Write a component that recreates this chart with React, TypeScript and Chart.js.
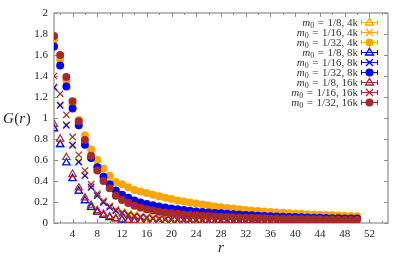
import React, { useEffect, useRef } from "react";
import { Chart, registerables } from "chart.js";

Chart.register(...registerables);

const rValues = [
  1, 2, 3, 4, 5, 6, 7, 8, 9, 10, 11, 12, 13, 14, 15, 16, 17, 18, 19, 20, 21, 22, 23, 24, 25,
  26, 27, 28, 29, 30, 31, 32, 33, 34, 35, 36, 37, 38, 39, 40, 41, 42, 43, 44, 45, 46, 47, 48, 49, 50,
];

const xTickValues = [4, 8, 12, 16, 20, 24, 28, 32, 36, 40, 44, 48, 52];
const xMinorTickValues = [2, 6, 10, 14, 18, 22, 26, 30, 34, 38, 42, 46, 50, 54];
const yTickValues = [0, 0.2, 0.4, 0.6, 0.8, 1, 1.2, 1.4, 1.6, 1.8, 2];

// m0 = 1/8
const g8_4k = [
  0.89, 0.74, 0.57, 0.42, 0.30, 0.21, 0.148, 0.103, 0.074, 0.055,
  0.042, 0.034, 0.028, 0.024, 0.021, 0.018, 0.016, 0.015, 0.014, 0.013,
  0.012, 0.011, 0.01, 0.01, 0.009, 0.009, 0.008, 0.008, 0.008, 0.007,
  0.007, 0.007, 0.006, 0.006, 0.006, 0.006, 0.005, 0.005, 0.005, 0.005,
  0.005, 0.005, 0.004, 0.004, 0.004, 0.004, 0.004, 0.004, 0.004, 0.004,
];
const g8_8k = [
  0.90, 0.75, 0.575, 0.425, 0.305, 0.215, 0.15, 0.105, 0.074, 0.053,
  0.039, 0.029, 0.022, 0.017, 0.014, 0.012, 0.01, 0.009, 0.008, 0.007,
  0.006, 0.006, 0.005, 0.005, 0.004, 0.004, 0.004, 0.003, 0.003, 0.003,
  0.003, 0.003, 0.002, 0.002, 0.002, 0.002, 0.002, 0.002, 0.002, 0.002,
  0.002, 0.002, 0.001, 0.001, 0.001, 0.001, 0.001, 0.001, 0.001, 0.001,
];
const g8_16k = [
  0.94, 0.80, 0.625, 0.465, 0.335, 0.24, 0.17, 0.12, 0.085, 0.061,
  0.045, 0.034, 0.026, 0.02, 0.016, 0.013, 0.011, 0.009, 0.008, 0.007,
  0.006, 0.005, 0.005, 0.004, 0.004, 0.003, 0.003, 0.003, 0.003, 0.002,
  0.002, 0.002, 0.002, 0.002, 0.002, 0.001, 0.001, 0.001, 0.001, 0.001,
  0.001, 0.001, 0.001, 0.001, 0.001, 0.001, 0.001, 0.001, 0.001, 0.001,
];

// m0 = 1/16
const g16_4k = [
  1.30, 1.13, 0.94, 0.75, 0.59, 0.46, 0.35, 0.27, 0.205, 0.16,
  0.13, 0.108, 0.092, 0.08, 0.071, 0.064, 0.058, 0.053, 0.049, 0.046,
  0.043, 0.04, 0.038, 0.036, 0.034, 0.032, 0.031, 0.03, 0.028, 0.027,
  0.026, 0.025, 0.024, 0.023, 0.022, 0.022, 0.021, 0.02, 0.02, 0.019,
  0.019, 0.018, 0.018, 0.017, 0.017, 0.016, 0.016, 0.016, 0.015, 0.015,
];
const g16_8k = [
  1.29, 1.12, 0.93, 0.74, 0.58, 0.45, 0.34, 0.26, 0.195, 0.148,
  0.115, 0.092, 0.076, 0.064, 0.055, 0.048, 0.043, 0.038, 0.034, 0.031,
  0.028, 0.026, 0.024, 0.022, 0.021, 0.019, 0.018, 0.017, 0.016, 0.015,
  0.014, 0.014, 0.013, 0.012, 0.012, 0.011, 0.011, 0.01, 0.01, 0.01,
  0.009, 0.009, 0.009, 0.008, 0.008, 0.008, 0.008, 0.007, 0.007, 0.007,
];
const g16_16k = [
  1.40, 1.23, 1.03, 0.82, 0.65, 0.50, 0.37, 0.28, 0.21, 0.16,
  0.125, 0.1, 0.082, 0.068, 0.058, 0.05, 0.044, 0.039, 0.035, 0.031,
  0.028, 0.026, 0.024, 0.022, 0.02, 0.019, 0.018, 0.017, 0.016, 0.015,
  0.014, 0.013, 0.013, 0.012, 0.012, 0.011, 0.011, 0.01, 0.01, 0.01,
  0.009, 0.009, 0.009, 0.008, 0.008, 0.008, 0.008, 0.007, 0.007, 0.007,
];

// m0 = 1/32
const g32_4k = [
  1.74, 1.56, 1.355, 1.13, 0.98, 0.835, 0.70, 0.60, 0.52, 0.45,
  0.39, 0.37, 0.34, 0.315, 0.30, 0.285, 0.27, 0.255, 0.24, 0.228,
  0.215, 0.205, 0.195, 0.185, 0.176, 0.167, 0.158, 0.150, 0.143, 0.137,
  0.131, 0.125, 0.12, 0.115, 0.11, 0.105, 0.101, 0.097, 0.094, 0.09,
  0.087, 0.084, 0.081, 0.079, 0.076, 0.074, 0.071, 0.069, 0.067, 0.065,
];
const g32_8k = [
  1.68, 1.50, 1.30, 1.09, 0.93, 0.746, 0.62, 0.53, 0.44, 0.37,
  0.31, 0.27, 0.24, 0.215, 0.195, 0.18, 0.168, 0.157, 0.147, 0.138,
  0.13, 0.123, 0.116, 0.11, 0.104, 0.099, 0.095, 0.092, 0.088, 0.084,
  0.08, 0.076, 0.073, 0.07, 0.067, 0.064, 0.062, 0.06, 0.058, 0.056,
  0.054, 0.052, 0.05, 0.049, 0.047, 0.046, 0.045, 0.044, 0.043, 0.042,
];
const g32_16k = [
  1.78, 1.60, 1.39, 1.16, 0.97, 0.79, 0.64, 0.50, 0.40, 0.33,
  0.26, 0.22, 0.19, 0.165, 0.145, 0.13, 0.118, 0.108, 0.1, 0.093,
  0.087, 0.082, 0.077, 0.073, 0.069, 0.066, 0.063, 0.06, 0.057, 0.055,
  0.053, 0.051, 0.049, 0.047, 0.045, 0.044, 0.043, 0.041, 0.04, 0.039,
  0.038, 0.037, 0.036, 0.035, 0.034, 0.033, 0.033, 0.032, 0.031, 0.03,
];

const ORANGE = "#ffa500";
const BLUE = "#0000ff";
const BROWN = "#a52a2a";

type Marker = "triangle" | "cross" | "circle";

const seriesDefs: { frac: string; size: string; color: string; marker: Marker; values: number[] }[] = [
  { frac: "1/8", size: "4k", color: ORANGE, marker: "triangle", values: g8_4k },
  { frac: "1/16", size: "4k", color: ORANGE, marker: "cross", values: g16_4k },
  { frac: "1/32", size: "4k", color: ORANGE, marker: "circle", values: g32_4k },
  { frac: "1/8", size: "8k", color: BLUE, marker: "triangle", values: g8_8k },
  { frac: "1/16", size: "8k", color: BLUE, marker: "cross", values: g16_8k },
  { frac: "1/32", size: "8k", color: BLUE, marker: "circle", values: g32_8k },
  { frac: "1/8", size: "16k", color: BROWN, marker: "triangle", values: g8_16k },
  { frac: "1/16", size: "16k", color: BROWN, marker: "cross", values: g16_16k },
  { frac: "1/32", size: "16k", color: BROWN, marker: "circle", values: g32_16k },
];

const SERIF = "'Liberation Serif', 'DejaVu Serif', serif";

function drawMarker(ctx: CanvasRenderingContext2D, m: Marker, x: number, y: number, color: string) {
  ctx.save();
  ctx.strokeStyle = color;
  ctx.fillStyle = color;
  ctx.lineWidth = 1.3;
  if (m === "circle") {
    ctx.beginPath();
    ctx.arc(x, y, 4, 0, Math.PI * 2);
    ctx.fill();
  } else if (m === "triangle") {
    const r = 4.2;
    ctx.beginPath();
    ctx.moveTo(x, y - r);
    ctx.lineTo(x + r * 0.95, y + r * 0.6);
    ctx.lineTo(x - r * 0.95, y + r * 0.6);
    ctx.closePath();
    ctx.stroke();
  } else {
    const r = 3.5;
    ctx.beginPath();
    ctx.moveTo(x - r, y - r);
    ctx.lineTo(x + r, y + r);
    ctx.moveTo(x + r, y - r);
    ctx.lineTo(x - r, y + r);
    ctx.stroke();
  }
  ctx.restore();
}

const framePlugin = {
  id: "frame",
  beforeDatasetsDraw(chart: any) {
    const { ctx, chartArea: a, scales } = chart;
    const xs = scales.x;
    const ys = scales.y;
    ctx.save();
    ctx.strokeStyle = "#8c8c8c";
    ctx.lineWidth = 1.2;
    ctx.strokeRect(a.left, a.top, a.right - a.left, a.bottom - a.top);
    ctx.lineWidth = 1;
    ctx.beginPath();
    for (const v of xTickValues) {
      const px = Math.round(xs.getPixelForValue(v)) + 0.5;
      ctx.moveTo(px, a.bottom);
      ctx.lineTo(px, a.bottom - 4);
      ctx.moveTo(px, a.top);
      ctx.lineTo(px, a.top + 4);
    }
    for (const v of xMinorTickValues) {
      const px = Math.round(xs.getPixelForValue(v)) + 0.5;
      ctx.moveTo(px, a.bottom);
      ctx.lineTo(px, a.bottom - 2);
      ctx.moveTo(px, a.top);
      ctx.lineTo(px, a.top + 2);
    }
    for (const v of yTickValues) {
      const py = Math.round(ys.getPixelForValue(v)) + 0.5;
      ctx.moveTo(a.left, py);
      ctx.lineTo(a.left + 4, py);
      ctx.moveTo(a.right, py);
      ctx.lineTo(a.right - 4, py);
    }
    ctx.stroke();
    ctx.restore();
  },
  afterDraw(chart: any) {
    const { ctx, chartArea: a } = chart;
    ctx.save();
    ctx.fillStyle = "#222";
    ctx.textBaseline = "alphabetic";
    // y-axis title G(r)
    const yTitleY = 123;
    let cx = 3;
    ctx.font = `italic 15px ${SERIF}`;
    ctx.fillText("G", cx, yTitleY);
    cx += ctx.measureText("G").width + 0.5;
    ctx.font = `15px ${SERIF}`;
    ctx.fillText("(", cx, yTitleY);
    cx += ctx.measureText("(").width;
    ctx.font = `italic 15px ${SERIF}`;
    ctx.fillText("r", cx, yTitleY);
    cx += ctx.measureText("r").width + 0.5;
    ctx.font = `15px ${SERIF}`;
    ctx.fillText(")", cx, yTitleY);
    // x-axis title r
    ctx.font = `italic 15px ${SERIF}`;
    ctx.textAlign = "center";
    ctx.fillText("r", (a.left + a.right) / 2, 252);
    ctx.textAlign = "left";

    // legend
    const textRight = 358;
    const sampleL = 361;
    const sampleR = 378;
    const y0 = 22;
    const dy = 10;
    const eqGap = 3.5;
    seriesDefs.forEach((s, i) => {
      const y = y0 + i * dy;
      const rest = `${s.frac}, ${s.size}`;
      ctx.font = `11px ${SERIF}`;
      const wRest = ctx.measureText(rest).width;
      const wEq = ctx.measureText("=").width;
      ctx.font = `8px ${SERIF}`;
      const wSub = ctx.measureText("0").width;
      ctx.font = `italic 11px ${SERIF}`;
      const wM = ctx.measureText("m").width;
      let x = textRight - wRest - eqGap - wEq - eqGap - wSub - wM;
      const base = y + 3.5;
      ctx.fillStyle = "#333";
      ctx.fillText("m", x, base);
      x += wM;
      ctx.font = `8px ${SERIF}`;
      ctx.fillText("0", x, base + 2);
      x += wSub + eqGap;
      ctx.font = `11px ${SERIF}`;
      ctx.fillText("=", x, base);
      x += wEq + eqGap;
      ctx.fillText(rest, x, base);
      // sample
      ctx.strokeStyle = s.color;
      ctx.lineWidth = 1;
      ctx.beginPath();
      ctx.moveTo(sampleL, y + 0.5);
      ctx.lineTo(sampleR, y + 0.5);
      ctx.moveTo(sampleL + 0.5, y - 2);
      ctx.lineTo(sampleL + 0.5, y + 3);
      ctx.moveTo(sampleR - 0.5, y - 2);
      ctx.lineTo(sampleR - 0.5, y + 3);
      ctx.stroke();
      drawMarker(ctx, s.marker, (sampleL + sampleR) / 2, y + 0.5, s.color);
    });
    ctx.restore();
  },
};

export default function App() {
  const canvasRef = useRef<HTMLCanvasElement | null>(null);

  useEffect(() => {
    if (!canvasRef.current) return;
    const datasets = seriesDefs.map((s, i) => {
      const base: any = {
        label: `m0 = ${s.frac}, ${s.size}`,
        data: rValues.map((r, k) => ({ x: r, y: s.values[k] })),
        showLine: false,
        order: seriesDefs.length - i,
        borderColor: s.color,
        backgroundColor: s.color,
      };
      if (s.marker === "circle") {
        base.pointStyle = "circle";
        base.pointRadius = 4;
        base.borderWidth = 0;
      } else if (s.marker === "triangle") {
        base.pointStyle = "triangle";
        base.pointRadius = 4.2;
        base.borderWidth = 1.2;
        base.backgroundColor = "rgba(0,0,0,0)";
      } else {
        base.pointStyle = "crossRot";
        base.pointRadius = 4.5;
        base.borderWidth = 1.2;
      }
      return base;
    });

    const chart = new Chart(canvasRef.current, {
      type: "scatter",
      data: { datasets },
      options: {
        animation: false,
        responsive: false,
        devicePixelRatio: 1,
        layout: { padding: { top: 13, right: 24, left: 0, bottom: 0 } },
        plugins: { legend: { display: false }, tooltip: { enabled: false } },
        scales: {
          x: {
            type: "linear",
            min: 1,
            max: 55,
            grid: { display: false, drawTicks: false },
            border: { display: false },
            afterBuildTicks: (scale: any) => {
              scale.ticks = xTickValues.map((v) => ({ value: v }));
            },
            afterFit: (scale: any) => {
              scale.height = 37;
            },
            ticks: {
              color: "#222",
              font: { family: SERIF, size: 11 },
              padding: 5,
              maxRotation: 0,
              autoSkip: false,
              callback: (v: any) => String(v),
            },
          },
          y: {
            type: "linear",
            min: 0,
            max: 2,
            grid: { display: false, drawTicks: false },
            border: { display: false },
            afterBuildTicks: (scale: any) => {
              scale.ticks = yTickValues.map((v) => ({ value: v }));
            },
            afterFit: (scale: any) => {
              scale.width = 54;
            },
            ticks: {
              color: "#222",
              font: { family: SERIF, size: 11 },
              padding: 6,
              autoSkip: false,
              callback: (v: any) => String(Math.round(Number(v) * 10) / 10),
            },
          },
        },
      },
      plugins: [framePlugin],
    });
    return () => chart.destroy();
  }, []);

  return (
    <div style={{ position: "fixed", left: 0, top: 0, width: 412, height: 260, background: "#fff" }}>
      <canvas ref={canvasRef} width={412} height={260} style={{ width: 412, height: 260, display: "block" }} />
    </div>
  );
}
